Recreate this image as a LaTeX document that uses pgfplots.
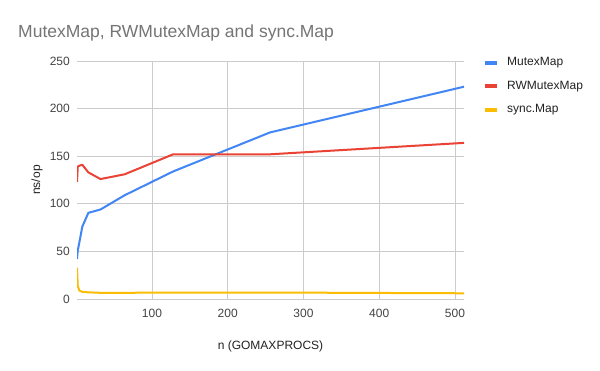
\documentclass[border=0pt]{standalone}
\usepackage{fontspec}
\setmainfont{Liberation Sans}
\usepackage{pgfplots}
\pgfplotsset{compat=1.18}
\definecolor{cblue}{HTML}{4285F4}
\definecolor{cred}{HTML}{EA4335}
\definecolor{cyellow}{HTML}{FBBC04}
\definecolor{ctitle}{HTML}{757575}
\definecolor{ctick}{HTML}{444444}
\definecolor{ctext}{HTML}{222222}
\definecolor{cgrid}{HTML}{CCCCCC}
\definecolor{czero}{HTML}{333333}
\begin{document}
\begin{tikzpicture}
\path[fill=white] (0,0) rectangle (600bp,371bp);
\node[anchor=west, text=ctitle, font=\fontsize{17.5bp}{20bp}\selectfont, inner sep=0pt] at (18bp,338bp) {MutexMap, RWMutexMap and sync.Map};
\begin{axis}[
  at={(77bp,72bp)}, anchor=south west,
  scale only axis, width=387bp, height=238bp,
  xmin=1, xmax=512, ymin=0, ymax=250,
  xtick={100,200,300,400,500}, ytick={50,100,150,200,250},
  extra y ticks={0},
  extra y tick style={grid style={czero, line width=1bp}},
  grid=major, major grid style={cgrid, line width=0.8bp},
  axis line style={draw=none},
  tick style={draw=none},
  /pgf/number format/assume math mode=true,
  ticklabel style={font=\fontsize{12bp}{14bp}\selectfont, text=ctick, inner sep=0pt},
  yticklabel style={anchor=east, xshift=-7bp},
  xticklabel style={anchor=base, yshift=-19bp},
  xlabel={n (GOMAXPROCS)},
  ylabel={ns/op},
  label style={font=\fontsize{12bp}{14bp}\selectfont, text=ctext, inner sep=0pt},
  xlabel style={at={(rel axis cs:0.5,-0.2101)}, anchor=base},
  ylabel style={at={(rel axis cs:-0.0956,0.5)}, anchor=base, rotate=0},
  legend cell align=left,
  legend style={at={(rel axis cs:1.049,1.0197)}, anchor=north west, draw=none, fill=none,
    inner sep=0pt, font=\fontsize{12bp}{14bp}\selectfont, text=ctext,
    nodes={inner sep=0pt, text height=9bp, text depth=3bp},
    row sep=11.7bp, column sep=8bp},
  legend image code/.code={\draw[line width=4bp] (0bp,0bp) -- (12bp,0bp);},
  every axis plot/.append style={line width=2bp, line join=round},
]
\addplot[cblue] coordinates {(1,42) (2,51) (4,59) (8,76) (16,90.5) (32,94) (64,109) (128,134) (256,175) (512,223)};
\addlegendentry{MutexMap}
\addplot[cred] coordinates {(1,123) (2,139) (4,140) (8,141) (16,133) (32,126) (64,131) (128,152) (256,152) (512,164)};
\addlegendentry{RWMutexMap}
\addplot[cyellow] coordinates {(1,33) (2,14) (4,9) (8,7.5) (16,7) (32,6.5) (64,6.5) (128,6.8) (256,6.8) (512,6)};
\addlegendentry{sync.Map}
\end{axis}
\end{tikzpicture}
\end{document}
